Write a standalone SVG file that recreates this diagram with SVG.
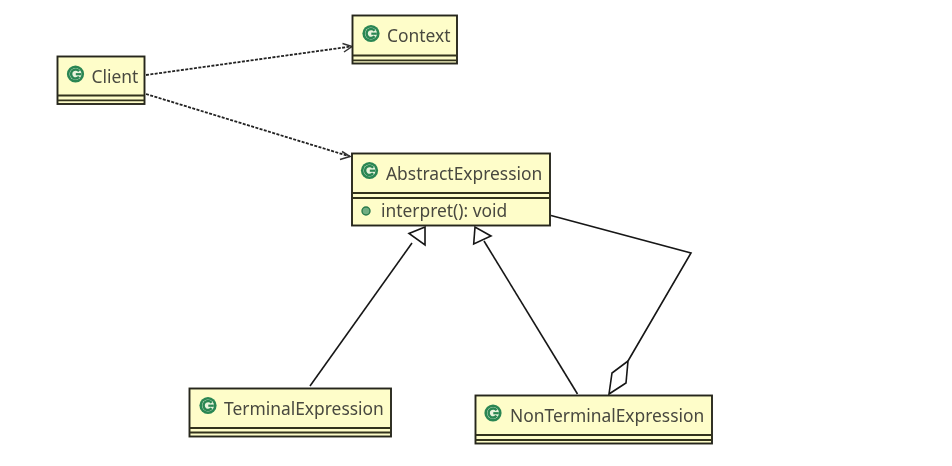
<svg xmlns="http://www.w3.org/2000/svg" width="952" height="466" viewBox="0 0 952 466">
<style>
.box{fill:#fefdc9;stroke:#26261c;stroke-width:1.9}
.sep{stroke:#33331f;stroke-width:1.8;fill:none}
.label{font-family:"Noto Sans","Open Sans",sans-serif;font-size:17.400px;fill:#48483f}
.dot{fill:#6fae83;stroke:#2a7a4c;stroke-width:1.4}
.dash{fill:none;stroke:#222;stroke-width:1.8;stroke-dasharray:3 1.4}
.open{fill:none;stroke:#333;stroke-width:1.5}
.line{fill:none;stroke:#151515;stroke-width:1.6}
.head{fill:#fff;stroke:#151515;stroke-width:1.6}
</style>
<defs>
<g id="c-icon">
<circle cx="0" cy="0" r="8.600" fill="#2a8653"/>
<circle cx="0" cy="0" r="6" fill="#e9f3dc"/>
<path d="M3.600-2.800A4.500 4.500 0 1 0 3.600 2.800" fill="none" stroke="#2a8653" stroke-width="2.500"/>
<path d="M0.300 0.200H5.800" stroke="#2a8653" stroke-width="2.200"/>
</g>
<filter id="soft" x="-2%" y="-2%" width="104%" height="104%"><feGaussianBlur stdDeviation="0.55"/></filter>
</defs>
<rect width="952" height="466" fill="#fff"/>
<g filter="url(#soft)">
<g id="connectors">
<path class="dash" d="M146 75L351 46.500"/>
<path class="open" d="M342.500 43.500L352 46.500L344 52"/>
<path class="dash" d="M146 94L350 156.500"/>
<path class="open" d="M342 151.500L350 156.500L340 159.500"/>
<path class="line" d="M310 386L412 243"/>
<path class="head" d="M425 227L409 233.500L425 245Z"/>
<path class="line" d="M577.500 394L484 241"/>
<path class="head" d="M475 227L473.700 244L491 236Z"/>
<path class="line" d="M551 215.500L691 253L628 361"/>
<path class="head" d="M609 394L612 373L628 361L626 383Z"/>
</g>
<g id="Client">
<rect class="box" x="57.500" y="56.500" width="87" height="47.500"/>
<path class="sep" d="M57.500 95.500H144.500M57.500 100.300H144.500"/>
<use href="#c-icon" x="75.500" y="74"/>
<text class="label" x="91.500" y="83">Client</text>
</g>
<g id="Context">
<rect class="box" x="352.500" y="15.500" width="104.500" height="48"/>
<path class="sep" d="M352.500 55.500H457M352.500 60.300H457"/>
<use href="#c-icon" x="371" y="33.500"/>
<text class="label" x="387" y="42">Context</text>
</g>
<g id="AbstractExpression">
<rect class="box" x="352" y="153.500" width="198" height="72"/>
<path class="sep" d="M352 193H550M352 198H550"/>
<use href="#c-icon" x="369.500" y="170.500"/>
<text class="label" x="386" y="180">AbstractExpression</text>
<circle class="dot" cx="366" cy="211" r="4"/>
<text class="label" x="381" y="217">interpret(): void</text>
</g>
<g id="TerminalExpression">
<rect class="box" x="189.500" y="388.500" width="201.500" height="48"/>
<path class="sep" d="M189.500 428H391M189.500 432.500H391"/>
<use href="#c-icon" x="208" y="405.500"/>
<text class="label" x="224" y="415">TerminalExpression</text>
</g>
<g id="NonTerminalExpression">
<rect class="box" x="475.500" y="395.500" width="236.500" height="48"/>
<path class="sep" d="M475.500 435H712M475.500 440H712"/>
<use href="#c-icon" x="493" y="413"/>
<text class="label" x="510" y="422">NonTerminalExpression</text>
</g>
</g>
</svg>
